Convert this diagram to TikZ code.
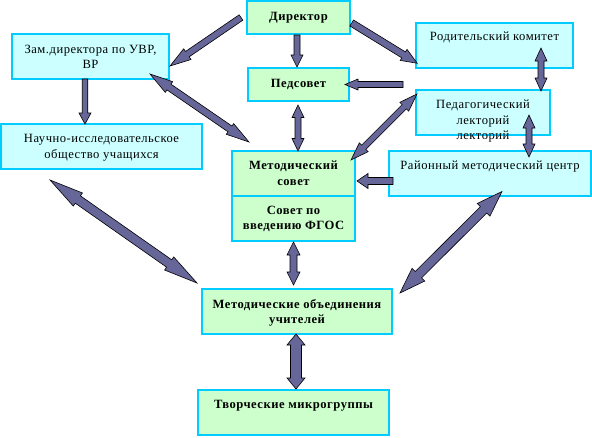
\documentclass[tikz,border=0pt]{standalone}
\usepackage{fontspec}
\setmainfont[LetterSpace=4]{Liberation Serif}
\usetikzlibrary{calc}
\definecolor{gfill}{RGB}{204,255,204}
\definecolor{cfill}{RGB}{204,255,255}
\definecolor{bcol}{RGB}{0,204,255}
\definecolor{afill}{RGB}{102,102,153}
\newcommand\bxt[5]{\parbox[c][#2pt][t]{#1pt}{\centering\baselineskip=#4pt\relax\vspace*{#3pt}\strut#5\par}}
% single block arrow: start, end, shaft width, head width, head length
\newcommand\sarw[5]{\path[arw] let \p1=(#1), \p2=(#2), \n1={atan2(\y2-\y1,\x2-\x1)}, \n2={veclen(\x2-\x1,\y2-\y1)} in [shift={(\p1)}, rotate=\n1] (0,{#3/2}) -- ({\n2-#5},{#3/2}) -- ({\n2-#5},{#4/2}) -- ({\n2},0) -- ({\n2-#5},{-#4/2}) -- ({\n2-#5},{-#3/2}) -- (0,{-#3/2}) -- cycle;}
% double block arrow
\newcommand\darw[5]{\path[arw] let \p1=(#1), \p2=(#2), \n1={atan2(\y2-\y1,\x2-\x1)}, \n2={veclen(\x2-\x1,\y2-\y1)} in [shift={(\p1)}, rotate=\n1] (0,0) -- (#5,{#4/2}) -- (#5,{#3/2}) -- ({\n2-#5},{#3/2}) -- ({\n2-#5},{#4/2}) -- ({\n2},0) -- ({\n2-#5},{-#4/2}) -- ({\n2-#5},{-#3/2}) -- (#5,{-#3/2}) -- (#5,{-#4/2}) -- cycle;}
\tikzset{
  boxbase/.style={draw=bcol, line width=1.2pt, inner sep=0pt, outer sep=0pt, anchor=north west},
  gbox/.style={boxbase, fill=gfill, font={\fontsize{12.6}{15}\selectfont\bfseries}},
  cbox/.style={boxbase, fill=cfill, font={\fontsize{12.6}{15}\selectfont}},
  arw/.style={fill=afill, draw=black, line width=0.6pt, line join=miter}
}
\begin{document}
\begin{tikzpicture}[x=1pt,y=1pt]
\useasboundingbox (0,0) rectangle (592,-437);
\node[gbox] (dir)  at (247,-1)   {\bxt{103}{33}{9}{15}{Директор}};
\node[cbox] (zam)  at (12,-34)   {\bxt{157}{45}{9}{15}{Зам.директора по УВР,\\ВР}};
\node[gbox] (ped)  at (248,-68)  {\bxt{101}{33}{9}{15}{Педсовет}};
\node[cbox] (rod)  at (416,-23)  {\bxt{157}{45}{7}{15}{Родительский комитет}};
\node[cbox] (lek)  at (416,-90)  {\bxt{134}{45}{8}{15.7}{Педагогический\\лекторий\\лекторий}};
\node[cbox] (nau)  at (1,-124)   {\bxt{201}{45}{8}{16}{Научно-исследовательское\\общество учащихся}};
\node[gbox] (ms)   at (232,-151) {\bxt{123}{45}{8}{16}{Методический\\совет}};
\node[gbox] (fgos) at (232,-196) {\bxt{123}{45}{8}{14.5}{Совет по\\введению ФГОС}};
\node[cbox] (rmc)  at (389,-151) {\bxt{202}{45}{8}{15}{Районный методический центр}};
\node[gbox] (mo)   at (202,-289) {\bxt{190}{45}{9}{15}{Методические объединения\\учителей}};
\node[gbox] (tm)   at (198,-390) {\bxt{191}{45}{8}{15}{Творческие микрогруппы}};
% arrows
\sarw{$(dir.west)+(-6,0)$}{$(zam.east)+(1,-9.5)$}{6.5}{13}{21}
\sarw{$(dir.south)+(-1.5,-1)$}{$(ped.north)+(-1.5,1)$}{6}{12}{12}
\sarw{$(dir.east)+(1.7,-5.5)$}{$(rod.south west)+(1.3,4.7)$}{7}{13}{16}
\sarw{$(lek.north west)+(-13,5.5)$}{$(ped.east)+(-4,0)$}{6}{11}{13}
\sarw{$(zam.south)+(-5.5,0)$}{$(nau.north)+(-16.5,0)$}{5.5}{12}{11}
\darw{$(zam.south east)+(-19,5)$}{$(ms.north west)+(17,9)$}{7}{13}{23}
\darw{$(ped.south)+(-0.5,-4)$}{$(ms.north)+(4.5,0)$}{6}{12}{12.5}
\darw{$(lek.north west)+(1,-4)$}{$(ms.north east)+(-4,-9)$}{6}{12.5}{18}
\darw{$(rod.south)+(46.5,20)$}{$(lek.north)+(58,-1)$}{6}{12}{13}
\darw{$(lek.south east)+(-21,20)$}{$(rmc.north)+(39,-6)$}{6}{12}{13}
\sarw{$(rmc.west)+(4,-7.5)$}{$(ms.east)+(2,-7.5)$}{7}{15}{11}
\darw{$(nau.south west)+(49,-11)$}{$(mo.north west)+(-5,6)$}{9}{16}{34}
\darw{$(fgos.south)+(0,-1)$}{$(mo.north)+(-3.5,4)$}{7}{13}{13}
\darw{$(mo.north east)+(8,-4)$}{$(rmc.south)+(12,4.5)$}{9}{18}{26}
\darw{$(mo.south)+(-1,0)$}{$(tm.north)+(2.5,1)$}{11}{18}{11}
\end{tikzpicture}
\end{document}
